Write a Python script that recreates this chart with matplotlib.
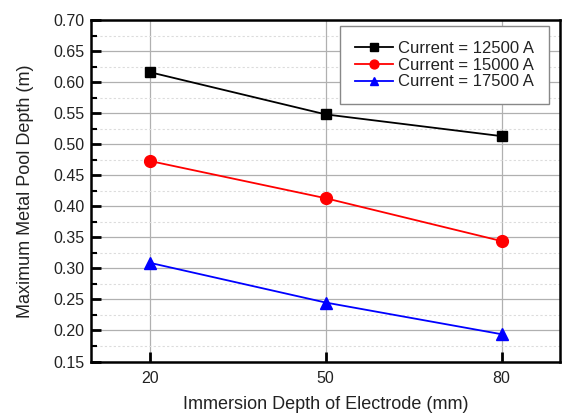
import matplotlib.pyplot as plt
from matplotlib.ticker import MultipleLocator

plt.rcParams['font.family'] = ['Liberation Sans', 'DejaVu Sans']

depth = [20, 50, 80]
pool_12500 = [0.616, 0.548, 0.513]
pool_15000 = [0.473, 0.413, 0.344]
pool_17500 = [0.309, 0.245, 0.194]
labels = ["Current = 12500 A", "Current = 15000 A", "Current = 17500 A"]

fig = plt.figure(figsize=(5.63, 4.17), dpi=100)
ax = fig.add_axes([0.162, 0.133, 0.833, 0.819])

ax.plot(depth, pool_12500, color="black", marker="s", markersize=7.5, linewidth=1.3, label=labels[0])
ax.plot(depth, pool_15000, color="red", marker="o", markersize=8.5, linewidth=1.3, label=labels[1])
ax.plot(depth, pool_17500, color="blue", marker="^", markersize=8.5, linewidth=1.3, label=labels[2])

ax.set_xlim(10, 90)
ax.set_ylim(0.15, 0.70)
ax.set_xticks(depth)
ax.yaxis.set_major_locator(MultipleLocator(0.05))
ax.yaxis.set_minor_locator(MultipleLocator(0.025))
ax.yaxis.set_major_formatter(plt.FormatStrFormatter('%.2f'))

ax.grid(True, which="major", color="#b0b0b0", linewidth=0.9)
ax.grid(True, which="minor", axis="y", color="#dcdcdc", linestyle=(0, (2, 2)), linewidth=0.8)
ax.set_axisbelow(True)

ax.tick_params(which="major", direction="in", length=7, width=2, labelsize=11.5, pad=5,
               labelcolor="#222222")
ax.tick_params(axis="x", which="major", pad=7)
ax.tick_params(which="minor", direction="in", length=4, width=1.5)
for s in ax.spines.values():
    s.set_linewidth(1.8)

ax.set_xlabel("Immersion Depth of Electrode (mm)", fontsize=13, color="#222222", labelpad=7)
ax.set_ylabel("Maximum Metal Pool Depth (m)", fontsize=13, color="#222222", labelpad=14)

leg = ax.legend(loc="upper right", fontsize=12, fancybox=False, framealpha=1,
                edgecolor="#888888", handlelength=2.3, borderpad=0.9,
                labelspacing=0.1, markerscale=0.75, handletextpad=0.3,
                borderaxespad=0, bbox_to_anchor=(0.977, 0.982))
leg.get_frame().set_linewidth(1.0)
for t in leg.get_texts():
    t.set_color("#222222")

plt.savefig("out.png", dpi=100)
